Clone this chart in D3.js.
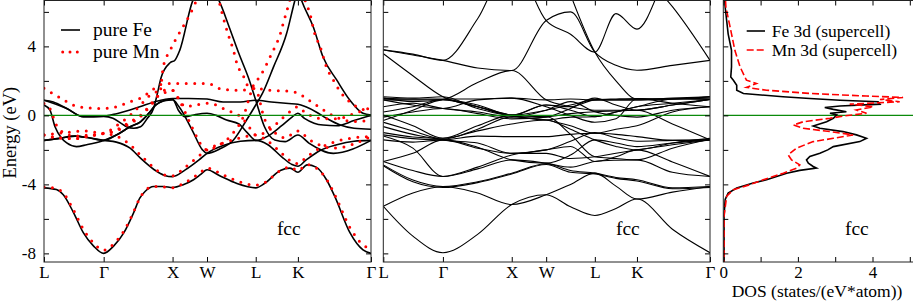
<!DOCTYPE html>
<html>
<head>
<meta charset="utf-8">
<script src="https://cdnjs.cloudflare.com/ajax/libs/d3/7.8.5/d3.min.js"></script>
<style>
  body { margin: 0; background: #fff; }
  svg { display: block; }
  text { font-family: "Liberation Serif", "Times New Roman", serif; fill: #000; }
</style>
</head>
<body>
<svg id="chart" width="913" height="304"></svg>
<script>
// high symmetry points along the fcc path (k distance, 2pi/a units)
var kPoints = [0, 0.866, 1.866, 2.366, 3.073, 3.685, 4.746];
var kLabels = ["L", "Γ", "X", "W", "L", "K", "Γ"];
var energyTicks = [-8, -6, -4, -2, 0, 2, 4, 6];
var dosTicks = [0, 1, 2, 3, 4, 5];

// pure Fe bands, [k, E]
var feBands = [
  [[0,-4.2],[0.18,-4.3],[0.28,-4.6],[0.43,-5.65],[0.57,-6.8],[0.72,-7.58],[0.866,-8.0],[1.01,-7.58],[1.16,-6.8],[1.3,-5.65],[1.39,-4.8],[1.47,-4.4],[1.59,-4.12],[1.73,-4.12],[1.866,-4.18],[2.02,-4.02],[2.17,-3.73],[2.27,-3.44],[2.366,-3.15],[2.55,-3.5],[2.8,-3.95],[3.073,-4.2],[3.2,-3.95],[3.43,-3.2],[3.57,-3.06],[3.685,-3.3],[3.82,-2.87],[3.95,-3.0],[4.1,-3.73],[4.22,-4.7],[4.44,-6.8],[4.63,-7.8],[4.746,-8.0]],
  [[0,-1.45],[0.2,-1.35],[0.45,-1.2],[0.65,-1.3],[0.866,-1.45],[1.05,-1.55],[1.25,-1.9],[1.4,-2.48],[1.6,-3.15],[1.75,-3.48],[1.866,-3.55],[2.05,-3.16],[2.25,-2.58],[2.366,-2.2],[2.6,-1.75],[2.85,-1.5],[3.073,-1.45],[3.25,-1.7],[3.45,-2.4],[3.6,-2.85],[3.685,-2.95],[3.8,-2.6],[4.0,-2.05],[4.25,-1.7],[4.5,-1.5],[4.746,-1.45]],
  [[0,0.6],[0.087,0.3],[0.16,-0.66],[0.25,-1.3],[0.33,-1.6],[0.47,-1.81],[0.62,-1.7],[0.866,-1.45],[1.05,-1.14],[1.25,-0.66],[1.4,-0.37],[1.52,0.12],[1.62,0.59],[1.74,0.85],[1.866,0.9],[1.96,0.5],[2.15,-0.85],[2.3,-2.0],[2.366,-2.2],[2.55,-1.95],[2.75,-1.43],[2.94,-0.27],[3.073,0.6],[3.17,1.27],[3.33,2.8],[3.52,4.73],[3.64,6.65],[3.685,7.3],[3.74,6.65],[3.91,5.11],[4.05,3.38],[4.25,2.04],[4.44,0.88],[4.63,0.12],[4.746,0.02]],
  [[0,0.88],[0.135,0.78],[0.33,0.4],[0.57,-0.08],[0.866,-0.05],[1.055,0.1],[1.39,0.5],[1.6,0.78],[1.866,0.98],[2.1,0.98],[2.366,0.95],[2.6,0.78],[2.85,0.78],[3.073,0.88],[3.3,0.78],[3.55,0.69],[3.685,0.65],[3.8,0.5],[3.95,0.2],[4.1,-0.17],[4.3,-0.56],[4.5,-0.75],[4.746,-0.8]],
  [[0,-1.45],[0.2,-1.35],[0.45,-1.2],[0.65,-1.3],[0.866,-1.45],[1.05,-1.14],[1.25,-0.66],[1.4,-0.37],[1.52,0.12],[1.62,0.59],[1.74,0.85],[1.866,0.95],[1.95,0.3],[2.05,-0.08],[2.2,0.05],[2.366,0.12],[2.5,0.0],[2.65,-0.27],[2.83,-0.5],[2.95,-1.0],[3.073,-1.45],[3.25,-1.2],[3.45,-0.6],[3.6,-0.1],[3.685,0.12],[3.78,-0.17],[3.92,-0.45],[4.05,-0.56],[4.25,-0.6],[4.5,-0.3],[4.746,0.0]],
  [[0,0.88],[0.33,0.4],[0.57,-0.08],[0.866,-0.06],[1.0,-0.17],[1.12,-0.46],[1.2,-0.66],[1.3,-0.75],[1.4,-0.66],[1.5,-0.17],[1.59,0.4],[1.64,1.17],[1.7,2.2],[1.83,3.05],[1.9,3.2],[1.97,3.77],[2.16,6.65],[2.366,7.6],[2.54,6.65],[2.69,5.1],[2.83,3.57],[2.98,2.04],[3.073,0.88],[3.2,-0.66],[3.35,-1.43],[3.5,-1.52],[3.685,-1.14],[3.85,-1.62],[4.2,-2.2],[4.746,-1.45]]
];

// pure Mn bands, [k, E]
var mnBands = [
  [[0,-4.15],[0.18,-4.25],[0.28,-4.5],[0.43,-5.5],[0.57,-6.6],[0.72,-7.4],[0.866,-7.82],[1.01,-7.45],[1.16,-6.7],[1.3,-5.6],[1.39,-4.8],[1.47,-4.35],[1.59,-4.12],[1.73,-4.15],[1.866,-4.2],[2.02,-3.95],[2.17,-3.6],[2.27,-3.3],[2.366,-3.05],[2.55,-3.35],[2.8,-3.8],[3.073,-4.05],[3.2,-3.9],[3.43,-3.2],[3.57,-3.0],[3.685,-3.2],[3.82,-2.85],[3.95,-3.05],[4.1,-3.7],[4.22,-4.6],[4.44,-6.5],[4.63,-7.5],[4.746,-7.75]],
  [[0,-1.14],[0.2,-1.3],[0.45,-1.35],[0.65,-1.2],[0.866,-1.05],[1.05,-1.2],[1.25,-1.7],[1.4,-2.3],[1.6,-3.05],[1.75,-3.45],[1.866,-3.5],[2.05,-3.0],[2.25,-2.35],[2.366,-2.0],[2.6,-1.6],[2.85,-1.3],[3.073,-1.14],[3.25,-1.5],[3.45,-2.2],[3.6,-2.7],[3.685,-2.8],[3.8,-2.45],[4.0,-1.9],[4.25,-1.5],[4.5,-1.3],[4.746,-1.23]],
  [[0,0.69],[0.1,0.3],[0.16,-0.4],[0.25,-0.9],[0.33,-1.1],[0.47,-1.2],[0.62,-1.15],[0.866,-1.05],[1.05,-0.6],[1.25,0.0],[1.4,0.6],[1.52,1.1],[1.62,1.35],[1.74,1.45],[1.866,1.45],[1.96,0.9],[2.15,-0.7],[2.3,-1.8],[2.366,-2.0],[2.55,-1.7],[2.75,-1.0],[2.9,0.0],[2.97,0.9],[3.04,1.75],[3.13,2.23],[3.21,2.8],[3.28,3.38],[3.35,3.96],[3.43,4.73],[3.47,5.31],[3.52,6.0],[3.66,7.5],[3.81,6.46],[3.86,5.89],[3.93,4.73],[4.01,3.96],[4.1,2.8],[4.2,2.04],[4.32,1.27],[4.44,0.78],[4.59,0.4],[4.68,0.3],[4.746,0.3]],
  [[0,1.57],[0.2,1.1],[0.33,0.8],[0.5,0.5],[0.866,0.4],[1.05,0.5],[1.25,0.8],[1.39,0.98],[1.55,1.4],[1.7,1.8],[1.866,1.85],[2.1,1.85],[2.366,1.85],[2.6,1.5],[2.85,1.46],[3.073,1.56],[3.3,1.45],[3.55,1.4],[3.685,1.3],[3.8,1.0],[3.95,0.6],[4.1,0.2],[4.3,-0.2],[4.5,-0.35],[4.746,-0.3]],
  [[0,-1.14],[0.2,-1.3],[0.45,-1.35],[0.65,-1.2],[0.866,-1.05],[1.05,-0.85],[1.25,-0.37],[1.4,0.0],[1.52,0.5],[1.62,1.0],[1.74,1.3],[1.866,1.45],[1.95,1.0],[2.05,0.5],[2.2,0.6],[2.366,0.7],[2.5,0.6],[2.65,0.3],[2.83,0.0],[2.95,-0.5],[3.073,-1.14],[3.25,-0.9],[3.45,-0.2],[3.6,0.3],[3.685,0.5],[3.78,0.2],[3.92,-0.1],[4.05,-0.2],[4.25,-0.2],[4.5,0.1],[4.746,0.45]],
  [[0,-1.14],[0.3,-1.0],[0.6,-0.9],[0.866,-1.04],[1.0,-0.95],[1.13,-0.75],[1.25,-0.46],[1.37,-0.17],[1.51,0.4],[1.64,1.07],[1.69,1.46],[1.73,2.8],[1.83,3.77],[1.93,4.54],[2.07,5.5],[2.17,6.27],[2.366,8.0],[2.55,6.46],[2.6,5.69],[2.67,4.73],[2.75,3.77],[2.8,3.0],[2.9,2.23],[2.97,1.65],[3.073,1.5],[3.2,-0.2],[3.35,-1.0],[3.5,-1.3],[3.685,-0.9],[3.85,-1.4],[4.2,-1.9],[4.746,-1.23]]
];

// supercell bands: energies at superK (null = off the chart there)
var superK = [0, 0.43, 0.866, 1.37, 1.866, 2.366, 2.72, 3.073, 3.38, 3.685, 4.2, 4.746];
var superBands = [
  [-5.27,-7.0,-7.96,-6.9,-5.17,-4.6,-5.3,-5.8,-5.4,-4.85,-6.6,-7.96],
  [-5.27,-4.5,-4.12,-4.5,-5.17,-4.6,-4.0,-3.35,-4.1,-4.85,-4.45,-4.12],
  [-2.87,-3.75,-4.12,-3.85,-3.35,-2.8,-3.2,-3.35,-3.6,-3.73,-4.2,-4.12],
  [-2.92,-3.85,-4.18,-3.9,-3.4,-2.85,-3.3,-3.4,-3.65,-3.8,-4.25,-4.18],
  [-2.67,-3.2,-3.54,-3.1,-2.58,-2.77,-3.0,-2.67,-2.6,-2.58,-3.3,-3.54],
  [-2.67,-2.2,-1.42,-1.9,-2.2,-2.2,-2.5,-2.4,-2.2,-2.0,-1.7,-1.42],
  [-1.42,-1.55,-1.42,-1.85,-2.58,-2.77,-2.3,-1.42,-1.6,-1.81,-1.6,-1.42],
  [-1.13,-1.35,-1.42,-1.2,-1.23,-1.23,-1.1,-1.04,-1.1,-1.23,-1.45,-1.42],
  [-1.0,-1.25,-1.33,-0.9,-0.5,-0.27,-0.8,-1.42,-1.8,-2.0,-1.6,-1.33],
  [-0.65,-1.1,-1.38,-0.8,-0.08,-0.08,-1.1,-2.4,-2.5,-2.58,-1.9,-1.38],
  [0.02,-0.6,-1.33,-0.6,0.02,-0.08,0.1,0.21,0.25,0.3,-0.5,-1.42],
  [-0.3,0.3,0.9,0.5,0.0,-0.27,-0.1,-0.08,0.2,0.5,0.7,0.92],
  [0.9,0.9,0.92,0.6,0.02,0.6,0.5,0.9,0.95,0.98,0.95,0.92],
  [1.0,0.95,0.95,0.95,1.0,0.9,0.95,0.9,0.9,0.9,1.0,1.08],
  [1.08,1.0,1.08,0.4,0.0,0.6,0.3,-0.08,0.2,0.5,0.95,1.0],
  [0.5,0.7,0.4,0.2,-0.1,0.3,0.8,0.21,0.0,-0.1,0.3,0.5],
  [-0.1,0.2,0.4,0.1,-0.2,-0.1,0.4,1.0,0.6,0.3,0.6,0.92],
  [0.2,0.5,0.92,0.5,-0.05,-0.27,-0.6,-1.04,-0.8,-0.6,0.2,0.5],
  [3.58,2.3,1.08,0.5,0.02,0.3,0.6,0.9,0.9,0.9,0.95,1.08],
  [1.0,0.8,0.92,1.9,2.6,0.9,0.5,0.3,0.3,0.3,0.6,0.92],
  [3.8,3.5,3.19,2.75,2.6,5.5,6.0,3.67,2.9,2.62,2.9,3.19],
  [3.8,3.55,3.19,5.6,9.0,5.5,4.7,3.67,5.9,5.0,8.5,9.0],
  [null,null,null,null,null,null,null,null,null,8.5,6.3,3.19],
  [null,null,null,null,null,null,7.0,3.67,2.0,0.95,0.95,1.08],
  [-0.4,-0.9,-1.42,-1.6,-2.2,-2.0,-1.5,-1.0,-1.3,-1.5,-1.45,-1.42],
  [-1.2,-1.9,-3.54,-3.0,-2.3,-2.0,-1.8,-2.67,-2.4,-2.0,-2.7,-3.54],
  [0.9,0.6,0.4,0.9,1.0,0.5,0.0,-0.4,-0.2,0.98,0.7,0.5]
];

// 3d DOS from the supercell, [E, DOS]
var feDos = [[6.65,0.04],[6.27,0.05],[4.73,0.13],[3.77,0.22],[2.81,0.22],[2.23,0.2],[2.04,0.27],[1.75,0.36],[1.46,0.36],[1.27,0.54],[1.08,1.6],[0.98,2.32],[0.88,3.13],[0.79,4.15],[0.65,4.2],[0.54,3.13],[0.46,2.72],[0.35,2.95],[0.21,3.3],[0.12,2.86],[0.02,3.04],[-0.17,2.95],[-0.37,2.77],[-0.62,2.41],[-0.75,2.59],[-0.94,3.21],[-1.13,3.57],[-1.33,3.84],[-1.52,3.66],[-1.81,2.95],[-2.0,2.8],[-2.19,2.59],[-2.38,2.32],[-2.58,2.23],[-2.77,2.28],[-2.96,2.41],[-3.06,2.5],[-3.19,2.05],[-3.35,1.7],[-3.73,1.16],[-3.92,0.8],[-4.21,0.36],[-4.5,0.13],[-4.88,0.05],[-5.85,0.02],[-7.96,0.02],[-8.5,0.02]];
var mnDos = [[6.65,0.06],[6.27,0.07],[4.73,0.22],[3.77,0.31],[2.81,0.45],[2.04,0.62],[1.85,0.89],[1.62,0.62],[1.46,1.16],[1.27,2.32],[1.12,3.84],[1.04,4.82],[0.92,4.2],[0.79,4.73],[0.65,3.39],[0.5,4.02],[0.31,3.57],[0.12,3.84],[-0.04,3.21],[-0.17,2.86],[-0.37,2.14],[-0.56,1.88],[-0.75,2.14],[-0.94,2.86],[-1.13,3.48],[-1.33,2.95],[-1.52,2.41],[-1.9,1.96],[-2.29,1.74],[-2.58,1.83],[-2.87,2.05],[-3.06,1.96],[-3.35,1.61],[-3.73,1.07],[-4.02,0.71],[-4.31,0.27],[-4.69,0.09],[-5.85,0.02],[-7.96,0.02],[-8.5,0.02]];

(function(){

  var plotTop = 0.5,
      plotBottom = 262;

  var panels = [
    {left: 44, right: 371},
    {left: 383.3, right: 710},
    {left: 723.3, right: 928}
  ];

  var svg = d3.select('#chart');

  var y = d3.scaleLinear().domain([-8.5, 6.66]).range([plotBottom, plotTop]);
  var x1 = d3.scaleLinear().domain([0, 4.746]).range([panels[0].left, panels[0].right]);
  var x2 = d3.scaleLinear().domain([0, 4.746]).range([panels[1].left, panels[1].right]);
  var x3 = d3.scaleLinear().domain([0, 5.5]).range([panels[2].left, panels[2].left + 5.5 * 37.3]);

  function clipFor(id, p) {
    svg.append('clipPath').attr('id', id)
      .append('rect')
      .attr('x', p.left).attr('y', plotTop)
      .attr('width', p.right - p.left).attr('height', plotBottom - plotTop);
    return svg.append('g').attr('clip-path', 'url(#' + id + ')');
  }

  function styleAxis(g, size) {
    g.attr('font-family', '"Liberation Serif", "Times New Roman", serif')
      .attr('font-size', size);
    g.select('.domain').remove();
    g.selectAll('.tick line').attr('stroke', '#000').attr('stroke-width', 1);
  }

  function axes(p, x, xTicks, xFormat, yLabels) {
    svg.append('g').attr('transform', 'translate(0,' + plotBottom + ')')
      .call(d3.axisBottom(x).tickValues(xTicks).tickFormat(xFormat)
        .tickSizeInner(-5).tickSizeOuter(0).tickPadding(4))
      .call(styleAxis, 17);
    svg.append('g').attr('transform', 'translate(0,' + plotTop + ')')
      .call(d3.axisTop(x).tickValues(xTicks).tickFormat('')
        .tickSizeInner(-5).tickSizeOuter(0))
      .call(styleAxis, 17);
    svg.append('g').attr('transform', 'translate(' + p.left + ',0)')
      .call(d3.axisLeft(y).tickValues(energyTicks)
        .tickFormat(function(d) { return (yLabels && d % 4 === 0) ? d : ''; })
        .tickSizeInner(-5).tickSizeOuter(0).tickPadding(8))
      .call(styleAxis, 17);
    svg.append('g').attr('transform', 'translate(' + p.right + ',0)')
      .call(d3.axisRight(y).tickValues(energyTicks).tickFormat('')
        .tickSizeInner(-5).tickSizeOuter(0))
      .call(styleAxis, 17);
    svg.append('rect')
      .attr('x', p.left).attr('y', plotTop)
      .attr('width', p.right - p.left).attr('height', plotBottom - plotTop)
      .attr('fill', 'none').attr('stroke', '#222').attr('stroke-width', 1);
  }

  function fermi(g, x, d0, d1) {
    g.append('line')
      .attr('x1', x(d0)).attr('x2', x(d1))
      .attr('y1', y(0)).attr('y2', y(0))
      .attr('stroke', '#0b8a0b').attr('stroke-width', 1.2);
  }

  // panel 1: pure Fe / pure Mn
  var g1 = clipFor('clip1', panels[0]);
  var band1 = d3.line()
    .x(function(d) { return x1(d[0]); })
    .y(function(d) { return y(d[1]); })
    .curve(d3.curveMonotoneX);

  g1.selectAll('path.fe')
    .data(feBands).enter()
    .append('path').attr('class', 'fe')
    .attr('d', band1)
    .attr('fill', 'none').attr('stroke', '#000').attr('stroke-width', 1.6);

  g1.selectAll('path.mn')
    .data(mnBands).enter()
    .append('path').attr('class', 'mn')
    .attr('d', band1)
    .attr('fill', 'none').attr('stroke', '#ff0000').attr('stroke-width', 3)
    .attr('stroke-linecap', 'round').attr('stroke-dasharray', '0,8.5');

  fermi(g1, x1, 0, 4.746);

  // panel 2: supercell bands
  var g2 = clipFor('clip2', panels[1]);
  var band2 = d3.line()
    .defined(function(d) { return d[1] !== null; })
    .x(function(d) { return x2(d[0]); })
    .y(function(d) { return y(d[1]); })
    .curve(d3.curveMonotoneX);

  g2.selectAll('path.sc')
    .data(superBands.map(function(b) {
      return b.map(function(e, i) { return [superK[i], e]; });
    }))
    .enter()
    .append('path').attr('class', 'sc')
    .attr('d', band2)
    .attr('fill', 'none').attr('stroke', '#000').attr('stroke-width', 1.1);

  fermi(g2, x2, 0, 4.746);

  // panel 3: DOS
  var g3 = clipFor('clip3', panels[2]);
  var dosLine = d3.line()
    .x(function(d) { return x3(d[1]); })
    .y(function(d) { return y(d[0]); });

  fermi(g3, x3, 0, 5.5);
  g3.append('path').datum(feDos)
    .attr('d', dosLine)
    .attr('fill', 'none').attr('stroke', '#000').attr('stroke-width', 1.6);
  g3.append('path').datum(mnDos)
    .attr('d', dosLine)
    .attr('fill', 'none').attr('stroke', '#ff0000').attr('stroke-width', 1.6)
    .attr('stroke-dasharray', '7,3');

  axes(panels[0], x1, kPoints, function(d, i) { return kLabels[i]; }, true);
  axes(panels[1], x2, kPoints, function(d, i) { return kLabels[i]; }, false);
  axes(panels[2], x3, dosTicks, function(d) { return d % 2 === 0 ? d : ''; }, false);

  // legends
  var leg1 = svg.append('g').attr('font-size', 19.5);
  leg1.append('line').attr('x1', 61).attr('x2', 80).attr('y1', 30).attr('y2', 30)
    .attr('stroke', '#000').attr('stroke-width', 1.6);
  leg1.append('text').attr('x', 93).attr('y', 36).text('pure Fe');
  leg1.append('line').attr('x1', 62.7).attr('x2', 79).attr('y1', 52).attr('y2', 52)
    .attr('stroke', '#ff0000').attr('stroke-width', 3)
    .attr('stroke-linecap', 'round').attr('stroke-dasharray', '0,7.3');
  leg1.append('text').attr('x', 93).attr('y', 57.5).text('pure Mn');

  var leg3 = svg.append('g').attr('font-size', 17.5);
  leg3.append('line').attr('x1', 746.7).attr('x2', 765).attr('y1', 31).attr('y2', 31)
    .attr('stroke', '#000').attr('stroke-width', 1.6);
  leg3.append('text').attr('x', 771.7).attr('y', 37).text('Fe 3d (supercell)');
  leg3.append('line').attr('x1', 746.7).attr('x2', 765).attr('y1', 50).attr('y2', 50)
    .attr('stroke', '#ff0000').attr('stroke-width', 1.6).attr('stroke-dasharray', '7,3');
  leg3.append('text').attr('x', 771.7).attr('y', 56).text('Mn 3d (supercell)');

  // structure tags
  svg.append('text').attr('x', x1(3.38)).attr('y', y(-6.94)).attr('font-size', 19.5).text('fcc');
  svg.append('text').attr('x', x2(3.38)).attr('y', y(-6.94)).attr('font-size', 19.5).text('fcc');
  svg.append('text').attr('x', x3(3.26)).attr('y', y(-6.94)).attr('font-size', 19.5).text('fcc');

  // axis titles
  svg.append('text')
    .attr('transform', 'translate(16,' + y(-1.0) + ') rotate(-90)')
    .attr('text-anchor', 'middle').attr('font-size', 18.5)
    .text('Energy (eV)');
  svg.append('text')
    .attr('x', 817).attr('y', 296.5)
    .attr('text-anchor', 'middle').attr('font-size', 17.5)
    .text('DOS (states/(eV*atom))');

})();
</script>
</body>
</html>
